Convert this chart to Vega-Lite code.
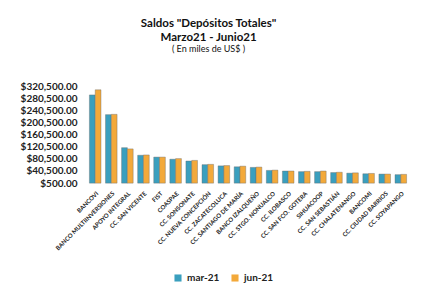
{
  "$schema": "https://vega.github.io/schema/vega-lite/v6.json",
  "width": 322,
  "height": 97,
  "padding": {"left": 20, "top": 17, "right": 10, "bottom": 4},
  "background": "white",
  "title": {
    "text": ["Saldos \"Depósitos Totales\"", "Marzo21 - Junio21"],
    "subtitle": "( En miles de US$ )",
    "anchor": "middle",
    "frame": "bounds",
    "dx": -6,
    "font": "Lato",
    "fontSize": 11.5,
    "fontWeight": "bold",
    "color": "#111",
    "lineHeight": 14,
    "subtitleFont": "Lato",
    "subtitleFontSize": 9,
    "subtitleColor": "#111",
    "subtitlePadding": 2,
    "offset": 27
  },
  "data": {
    "values": [
      {"inst": "BANCOVI", "periodo": "mar-21", "saldo": 291000},
      {"inst": "BANCOVI", "periodo": "jun-21", "saldo": 308000},
      {"inst": "BANCO MULTIINVERSIONES", "periodo": "mar-21", "saldo": 226000},
      {"inst": "BANCO MULTIINVERSIONES", "periodo": "jun-21", "saldo": 227000},
      {"inst": "APOYO INTEGRAL", "periodo": "mar-21", "saldo": 117000},
      {"inst": "APOYO INTEGRAL", "periodo": "jun-21", "saldo": 113000},
      {"inst": "CC. SAN VICENTE", "periodo": "mar-21", "saldo": 92000},
      {"inst": "CC. SAN VICENTE", "periodo": "jun-21", "saldo": 93000},
      {"inst": "FIST", "periodo": "mar-21", "saldo": 86000},
      {"inst": "FIST", "periodo": "jun-21", "saldo": 86000},
      {"inst": "COASPAE", "periodo": "mar-21", "saldo": 79000},
      {"inst": "COASPAE", "periodo": "jun-21", "saldo": 81000},
      {"inst": "CC. SONSONATE", "periodo": "mar-21", "saldo": 73000},
      {"inst": "CC. SONSONATE", "periodo": "jun-21", "saldo": 75000},
      {"inst": "CC. NUEVA CONCEPCIÓN", "periodo": "mar-21", "saldo": 61000},
      {"inst": "CC. NUEVA CONCEPCIÓN", "periodo": "jun-21", "saldo": 62000},
      {"inst": "CC. ZACATECOLUCA", "periodo": "mar-21", "saldo": 57000},
      {"inst": "CC. ZACATECOLUCA", "periodo": "jun-21", "saldo": 58000},
      {"inst": "CC. SANTIAGO DE MARÍA", "periodo": "mar-21", "saldo": 54000},
      {"inst": "CC. SANTIAGO DE MARÍA", "periodo": "jun-21", "saldo": 56000},
      {"inst": "BANCO IZALQUEÑO", "periodo": "mar-21", "saldo": 52000},
      {"inst": "BANCO IZALQUEÑO", "periodo": "jun-21", "saldo": 53000},
      {"inst": "CC. STGO. NONUALCO", "periodo": "mar-21", "saldo": 42000},
      {"inst": "CC. STGO. NONUALCO", "periodo": "jun-21", "saldo": 43000},
      {"inst": "CC. ILOBASCO", "periodo": "mar-21", "saldo": 40000},
      {"inst": "CC. ILOBASCO", "periodo": "jun-21", "saldo": 40000},
      {"inst": "CC. SAN FCO. GOTERA", "periodo": "mar-21", "saldo": 38000},
      {"inst": "CC. SAN FCO. GOTERA", "periodo": "jun-21", "saldo": 39000},
      {"inst": "SIHUACOOP", "periodo": "mar-21", "saldo": 38000},
      {"inst": "SIHUACOOP", "periodo": "jun-21", "saldo": 40000},
      {"inst": "CC. SAN SEBASTIÁN", "periodo": "mar-21", "saldo": 35000},
      {"inst": "CC. SAN SEBASTIÁN", "periodo": "jun-21", "saldo": 36000},
      {"inst": "CC. CHALATENANGO", "periodo": "mar-21", "saldo": 33000},
      {"inst": "CC. CHALATENANGO", "periodo": "jun-21", "saldo": 34000},
      {"inst": "BANCOMI", "periodo": "mar-21", "saldo": 31000},
      {"inst": "BANCOMI", "periodo": "jun-21", "saldo": 32000},
      {"inst": "CC. CIUDAD BARRIOS", "periodo": "mar-21", "saldo": 30000},
      {"inst": "CC. CIUDAD BARRIOS", "periodo": "jun-21", "saldo": 30000},
      {"inst": "CC. SOYAPANGO", "periodo": "mar-21", "saldo": 28000},
      {"inst": "CC. SOYAPANGO", "periodo": "jun-21", "saldo": 29000}
    ]
  },
  "mark": {"type": "bar", "stroke": "#6b6b6b", "strokeWidth": 0.4},
  "encoding": {
    "x": {
      "field": "inst",
      "type": "nominal",
      "sort": null,
      "scale": {"paddingInner": 0.28, "paddingOuter": 0.15},
      "axis": {
        "title": null,
        "labelAngle": -45,
        "labelFont": "Lato",
        "labelFontSize": 6,
        "labelFontWeight": "bold",
        "labelColor": "#222",
        "labelPadding": 7,
        "ticks": false,
        "domain": false,
        "labelOverlap": false
      }
    },
    "xOffset": {"field": "periodo", "type": "nominal", "sort": ["mar-21", "jun-21"]},
    "y": {
      "field": "saldo",
      "type": "quantitative",
      "scale": {"domain": [500, 320500], "nice": false, "zero": false},
      "axis": {
        "title": null,
        "values": [500, 40500, 80500, 120500, 160500, 200500, 240500, 280500, 320500],
        "format": "$,.2f",
        "labelFont": "Lato",
        "labelFontSize": 10,
        "labelFontWeight": "bold",
        "labelColor": "#222",
        "labelPadding": 10,
        "ticks": false,
        "domain": false,
        "grid": false
      }
    },
    "color": {
      "field": "periodo",
      "type": "nominal",
      "sort": ["mar-21", "jun-21"],
      "scale": {"domain": ["mar-21", "jun-21"], "range": ["#3a9fbe", "#f3a93a"]},
      "legend": {
        "title": null,
        "orient": "none",
        "legendX": 86,
        "legendY": 187,
        "direction": "horizontal",
        "symbolType": "square",
        "symbolSize": 50,
        "symbolStrokeWidth": 0,
        "labelFont": "Lato",
        "labelFontSize": 10,
        "labelFontWeight": "bold",
        "labelColor": "#222",
        "columnPadding": 10
      }
    }
  },
  "config": {
    "view": {"stroke": null}
  }
}
